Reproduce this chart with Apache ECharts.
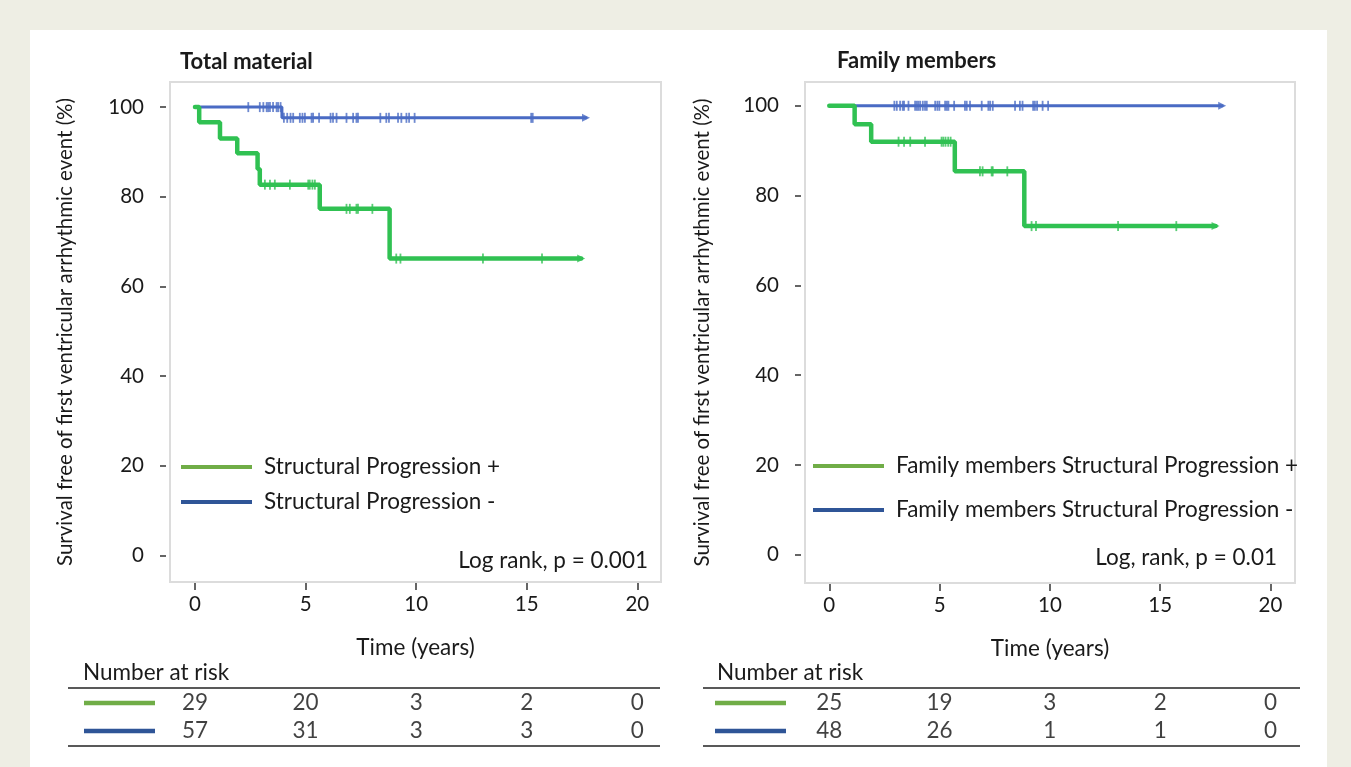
<!DOCTYPE html>
<html>
<head>
<meta charset="utf-8">
<script src="https://cdn.jsdelivr.net/npm/echarts@6/dist/echarts.min.js"></script>
<style>
  html, body { margin: 0; padding: 0; background: #eeeee4; }
  #panel { position: absolute; left: 30px; top: 30px; width: 1297px; height: 737px; background: #fff; }
  #chart { position: absolute; left: 0; top: 0; width: 1351px; height: 767px; }
</style>
</head>
<body>
<div id="panel"></div>
<div id="chart"></div>
<script>
// axis ticks
const xTicks = [0, 5, 10, 15, 20];
const yTicks = [0, 20, 40, 60, 80, 100];
const riskTimes = [0, 5, 10, 15, 20];

// Total material: Kaplan-Meier steps [years, %]
const totalPlusSteps = [[0, 100], [0.19, 96.6], [1.13, 93.0], [1.91, 89.7], [2.83, 86.2], [2.93, 82.7], [5.64, 77.3], [8.80, 66.2], [17.46, 66.2]];
const totalPlusCensor = [[3.16, 82.7], [3.39, 82.7], [3.61, 82.7], [4.29, 82.7], [5.12, 82.7], [5.19, 82.7], [5.31, 82.7], [5.42, 82.7],
  [6.85, 77.3], [7.00, 77.3], [7.30, 77.3], [7.37, 77.3], [8.02, 77.3],
  [9.10, 66.2], [9.29, 66.2], [13.02, 66.2], [15.69, 66.2]];
const totalMinusSteps = [[0, 100], [3.93, 97.6], [17.68, 97.6]];
const totalMinusCensor = [[2.41, 100], [2.93, 100], [3.09, 100], [3.24, 100], [3.31, 100], [3.39, 100], [3.53, 100], [3.69, 100], [3.76, 100], [3.87, 100],
  [4.02, 97.6], [4.17, 97.6], [4.32, 97.6], [4.44, 97.6], [4.74, 97.6], [4.86, 97.6], [4.97, 97.6], [5.27, 97.6], [5.34, 97.6], [5.61, 97.6],
  [6.13, 97.6], [6.24, 97.6], [6.40, 97.6], [6.85, 97.6], [7.15, 97.6], [7.30, 97.6], [7.37, 97.6], [8.38, 97.6], [8.65, 97.6], [8.77, 97.6],
  [9.18, 97.6], [9.33, 97.6], [9.56, 97.6], [9.68, 97.6], [9.93, 97.6], [15.20, 97.6], [15.27, 97.6]];

// Family members
const famPlusSteps = [[0, 100], [1.15, 95.9], [1.90, 92.0], [5.69, 85.4], [8.84, 73.2], [17.51, 73.2]];
const famPlusCensor = [[3.14, 92.0], [3.39, 92.0], [3.67, 92.0], [4.34, 92.0], [5.09, 92.0], [5.17, 92.0], [5.27, 92.0], [5.39, 92.0], [5.50, 92.0],
  [6.83, 85.4], [6.95, 85.4], [7.36, 85.4], [7.41, 85.4], [8.07, 85.4],
  [9.17, 73.2], [9.37, 73.2], [13.09, 73.2], [15.73, 73.2]];
const famMinusSteps = [[0, 100], [17.81, 100]];
const famMinusCensor = [[2.95, 100], [3.06, 100], [3.21, 100], [3.33, 100], [3.39, 100], [3.59, 100], [3.89, 100], [3.97, 100], [4.04, 100], [4.12, 100],
  [4.24, 100], [4.34, 100], [4.42, 100], [4.80, 100], [4.90, 100], [4.99, 100], [5.25, 100], [5.33, 100], [5.40, 100], [5.66, 100],
  [6.15, 100], [6.23, 100], [6.38, 100], [6.91, 100], [7.21, 100], [7.29, 100], [7.41, 100], [8.42, 100], [8.64, 100], [8.76, 100],
  [9.24, 100], [9.32, 100], [9.42, 100], [9.67, 100], [9.92, 100]];

// number at risk
const totalRiskPlus = [29, 20, 3, 2, 0];
const totalRiskMinus = [57, 31, 3, 3, 0];
const famRiskPlus = [25, 19, 3, 2, 0];
const famRiskMinus = [48, 26, 1, 1, 0];

const legendTotal = ['Structural Progression +', 'Structural Progression -'];
const legendFam = ['Family members Structural Progression +', 'Family members Structural Progression -'];
const riskRows = ['plus', 'minus'];

const GREEN = '#30c152', BLUE = '#4a6bc4';
const LEG_GREEN = '#70ad47', LEG_BLUE = '#2f5597';
const FONT = 'Lato';
const FS = 22.5;   // general text size
const TICK_FS = 20.5;

let chart = echarts.init(document.getElementById('chart'));

function xAxisFor(gi, min, max, showLabels, name) {
  return {
    type: 'value', gridIndex: gi, min: min, max: max, offset: 1,
    splitLine: { show: false },
    axisLine: { show: false, onZero: false },
    axisTick: { show: showLabels, customValues: xTicks, length: 7, lineStyle: { color: '#333', width: 1.5 } },
    axisLabel: { show: showLabels, customValues: xTicks, margin: 11, color: '#1a1a1a', fontSize: TICK_FS, fontFamily: FONT },
    name: name, nameLocation: 'middle', nameGap: 53,
    nameTextStyle: { color: '#1a1a1a', fontSize: FS, fontFamily: FONT }
  };
}
function yAxisFor(gi, min, max, gap) {
  return {
    type: 'value', gridIndex: gi, min: min, max: max, offset: 4,
    splitLine: { show: false },
    axisLine: { show: false, onZero: false },
    axisTick: { show: true, customValues: yTicks, length: 6, lineStyle: { color: '#333', width: 1.5 } },
    axisLabel: { customValues: yTicks, margin: 22, color: '#1a1a1a', fontSize: TICK_FS, fontFamily: FONT },
    name: 'Survival free of first ventricular arrhythmic event (%)',
    nameLocation: 'middle', nameRotate: 90, nameGap: gap,
    nameTextStyle: { color: '#1a1a1a', fontSize: 20.5, fontFamily: FONT }
  };
}
function riskY(gi) {
  return { type: 'category', gridIndex: gi, data: riskRows, inverse: true, show: false };
}
function stepLine(name, data, color, width, xi, z) {
  return { type: 'line', name: name, data: data, step: 'end', xAxisIndex: xi, yAxisIndex: xi,
    showSymbol: false, color: color, lineStyle: { color: color, width: width, cap: 'round' }, z: z, silent: true };
}
function censor(data, color, xi, z) {
  return { type: 'scatter', data: data, xAxisIndex: xi, yAxisIndex: xi, symbol: 'rect', symbolSize: [1.8, 10],
    itemStyle: { color: color }, z: z, silent: true };
}
function endArrow(steps, color, xi, z) {
  return { type: 'scatter', data: [steps[steps.length - 1]], xAxisIndex: xi, yAxisIndex: xi, symbol: 'triangle',
    symbolRotate: -90, symbolSize: [8, 8], itemStyle: { color: color }, z: z, silent: true };
}
function riskSeries(vals, row, xi) {
  return { type: 'scatter', xAxisIndex: xi, yAxisIndex: xi, symbolSize: 0, silent: true,
    data: vals.map((v, i) => [riskTimes[i], row, v]),
    label: { show: true, position: 'inside', formatter: p => String(p.value[2]), color: '#111', fontSize: FS, fontFamily: FONT } };
}
function legendFor(names, left, top, gap) {
  return {
    orient: 'vertical', left: left, top: top, padding: 0, itemGap: gap,
    itemWidth: 71, itemHeight: 4, icon: 'rect', selectedMode: false,
    textStyle: { color: '#1a1a1a', fontSize: FS, fontFamily: FONT, lineHeight: 24, padding: [0, 0, 0, 7] },
    data: [
      { name: names[0], itemStyle: { color: LEG_GREEN } },
      { name: names[1], itemStyle: { color: LEG_BLUE } }
    ]
  };
}
function text(x, y, str, opts) {
  return { type: 'text', x: x, y: y, silent: true,
    style: Object.assign({ text: str, fill: '#1a1a1a', fontSize: FS, fontFamily: FONT, verticalAlign: 'middle' }, opts || {}) };
}
function rule(x1, x2, y) {
  return { type: 'line', silent: true, shape: { x1: x1, y1: y, x2: x2, y2: y }, style: { stroke: '#222', lineWidth: 1.5 } };
}
function swatch(x1, x2, y, color) {
  return { type: 'line', silent: true, shape: { x1: x1, y1: y, x2: x2, y2: y }, style: { stroke: color, lineWidth: 4.5 } };
}

const option = {
  animation: false,
  grid: [
    { left: 170, top: 82, width: 491, height: 500, show: true, borderColor: '#dcdcdc', borderWidth: 2, backgroundColor: 'transparent' },
    { left: 805, top: 82, width: 490, height: 501, show: true, borderColor: '#dcdcdc', borderWidth: 2, backgroundColor: 'transparent' },
    { left: 170, top: 689, width: 491, height: 56 },
    { left: 805, top: 689, width: 490, height: 56 }
  ],
  xAxis: [
    xAxisFor(0, -1.13, 21.07, true, 'Time (years)'),
    xAxisFor(1, -1.10, 21.11, true, 'Time (years)'),
    Object.assign(xAxisFor(2, -1.13, 21.07, false, ''), { show: false }),
    Object.assign(xAxisFor(3, -1.10, 21.11, false, ''), { show: false })
  ],
  yAxis: [
    yAxisFor(0, -5.96, 105.6, 90),
    yAxisFor(1, -6.3, 105.3, 88),
    riskY(2),
    riskY(3)
  ],
  legend: [
    legendFor(legendTotal, 181, 455, 11),
    legendFor(legendFam, 813, 454, 20)
  ],
  series: [
    stepLine(legendTotal[1], totalMinusSteps, BLUE, 3, 0, 2),
    censor(totalMinusCensor, BLUE, 0, 3),
    endArrow(totalMinusSteps, BLUE, 0, 3),
    stepLine(legendTotal[0], totalPlusSteps, GREEN, 4.5, 0, 4),
    censor(totalPlusCensor, GREEN, 0, 5),
    endArrow(totalPlusSteps, GREEN, 0, 5),

    stepLine(legendFam[1], famMinusSteps, BLUE, 3, 1, 2),
    censor(famMinusCensor, BLUE, 1, 3),
    endArrow(famMinusSteps, BLUE, 1, 3),
    stepLine(legendFam[0], famPlusSteps, GREEN, 4.5, 1, 4),
    censor(famPlusCensor, GREEN, 1, 5),
    endArrow(famPlusSteps, GREEN, 1, 5),

    riskSeries(totalRiskPlus, 'plus', 2),
    riskSeries(totalRiskMinus, 'minus', 2),
    riskSeries(famRiskPlus, 'plus', 3),
    riskSeries(famRiskMinus, 'minus', 3)
  ],
  graphic: [
    text(180, 62, 'Total material', { fontWeight: 'bold', fontSize: 22 }),
    text(837, 61, 'Family members', { fontWeight: 'bold', fontSize: 22 }),
    text(648, 561, 'Log rank, p = 0.001', { align: 'right' }),
    text(1277, 558, 'Log, rank, p = 0.01', { align: 'right' }),
    text(83, 673, 'Number at risk'),
    text(717, 673, 'Number at risk'),
    rule(68, 660, 688), rule(68, 660, 746),
    rule(703, 1300, 688), rule(703, 1300, 746),
    swatch(84, 155, 703, LEG_GREEN), swatch(84, 155, 731, LEG_BLUE),
    swatch(715, 786, 703, LEG_GREEN), swatch(715, 786, 731, LEG_BLUE)
  ]
};
chart.setOption(option);
</script>
</body>
</html>
